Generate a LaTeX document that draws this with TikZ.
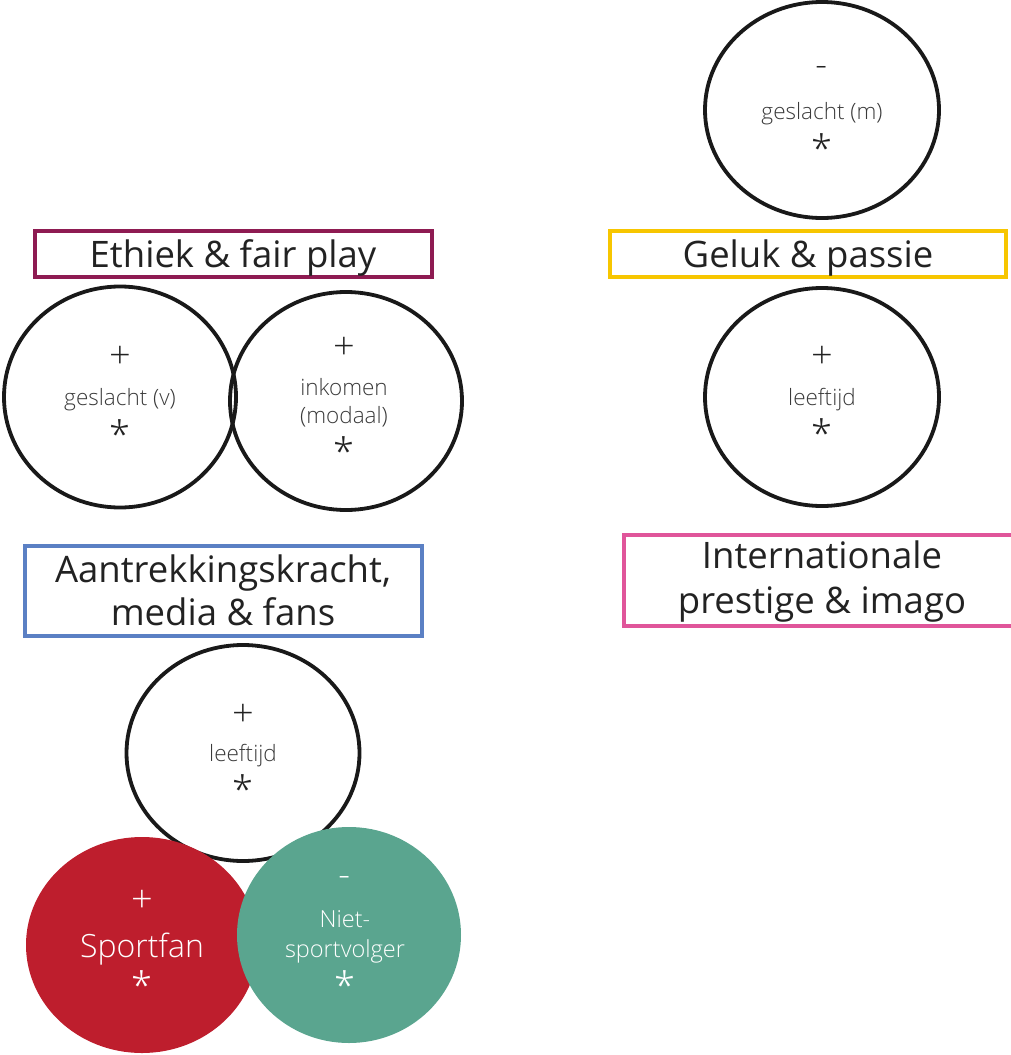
\documentclass[tikz,border=0pt]{standalone}
\usepackage{fontspec}
\setmainfont{Open Sans Light}
\newfontfamily\headfont{Open Sans}
\usetikzlibrary{shapes.geometric}
\definecolor{ethiek}{HTML}{8E1B52}
\definecolor{geluk}{HTML}{F7C600}
\definecolor{aantrek}{HTML}{5B80C4}
\definecolor{intern}{HTML}{E0559A}
\definecolor{sportred}{HTML}{BE1E2D}
\definecolor{nietgreen}{HTML}{5AA58F}
\definecolor{darktext}{HTML}{222222}
\definecolor{graytext}{HTML}{3A3A3A}
\tikzset{
  oval/.style={ellipse, draw=black!90, line width=3.8pt, inner sep=0pt},
  filledoval/.style={ellipse, inner sep=0pt, draw=none},
  header/.style={font=\headfont\fontsize{36.5}{40}\selectfont, text=darktext, anchor=base, inner sep=0pt},
  sign/.style={font=\fontsize{38}{38}\selectfont, text=darktext, inner sep=0pt},
  small/.style={font=\fontsize{22.5}{29}\selectfont, text=graytext, anchor=base, inner sep=0pt},
  frame/.style={line width=3.5pt},
}
\begin{document}
\begin{tikzpicture}[x=1pt,y=-1pt]
\useasboundingbox (0,0) rectangle (1011,1055);

% top-right ellipse
\node[oval, minimum width=234pt, minimum height=216pt] (em) at (822,110) {};
\node[sign] (em1) at (822,72) {-};
\node[small] (em2) at (822,119) {geslacht (m)};
\node[sign] (em3) at (822,148) {*};

% Geluk & passie
\draw[frame, draw=geluk] (610,231) rectangle (1006,277);
\node[header] (geluk) at (808,267) {Geluk \& passie};

% Ethiek & fair play
\draw[frame, draw=ethiek] (35,231) rectangle (432,277);
\node[header] (ethiek) at (233,267) {Ethiek \& fair play};

% left ellipses
\node[oval, minimum width=232pt, minimum height=221pt] (ev) at (120,397) {};
\node[oval, minimum width=232pt, minimum height=218pt] (ei) at (346,401) {};
\node[sign] (ev1) at (120,357) {+};
\node[small] (ev2) at (120,405) {geslacht (v)};
\node[sign] (ev3) at (120,434) {*};
\node[sign] (ei1) at (344,348) {+};
\node[small] (ei2) at (344,395) {inkomen};
\node[small] (ei2b) at (344,423) {(modaal)};
\node[sign] (ei3) at (344,451) {*};

% right leeftijd ellipse
\node[oval, minimum width=234pt, minimum height=218pt] (el) at (822,397) {};
\node[sign] (el1) at (822,357) {+};
\node[small] (el2) at (822,405) {leeftijd};
\node[sign] (el3) at (822,433) {*};

% Aantrekkingskracht
\draw[frame, draw=aantrek] (25,546) rectangle (422,636);
\node[header] (aantrek) at (223,582) {Aantrekkingskracht,};
\node[header] (aantrekb) at (223,625) {media \& fans};

% Internationale prestige
\draw[frame, draw=intern] (1011,535) -| (624,626) -- (1011,626);
\node[header] (intern) at (822,568) {Internationale};
\node[header] (internb) at (822,613) {prestige \& imago};

% bottom leeftijd ellipse
\node[oval, minimum width=233pt, minimum height=216pt] (eb) at (243,753) {};
\node[sign] (eb1) at (243,715) {+};
\node[small] (eb2) at (243,761) {leeftijd};
\node[sign] (eb3) at (243,789) {*};

% Sportfan
\node[filledoval, fill=sportred, minimum width=232pt, minimum height=216pt] (sf) at (142,945) {};
% Niet-sportvolger
\node[filledoval, fill=nietgreen, minimum width=224pt, minimum height=216pt] (ns) at (349,935) {};

\node[sign, text=white] (sf1) at (142,901) {+};
\node[font=\fontsize{32}{32}\selectfont, text=white, anchor=base, inner sep=0pt] (sf2) at (142,957) {Sportfan};
\node[sign, text=white] (sf3) at (142,985) {*};

\node[sign, text=white] (ns1) at (345,882) {-};
\node[font=\fontsize{23.5}{30}\selectfont, text=white, anchor=base, inner sep=0pt] (ns2) at (345,927) {Niet-};
\node[font=\fontsize{23.5}{30}\selectfont, text=white, anchor=base, inner sep=0pt] (ns2b) at (345,957) {sportvolger};
\node[sign, text=white] (ns3) at (345,985) {*};
\end{tikzpicture}
\end{document}
